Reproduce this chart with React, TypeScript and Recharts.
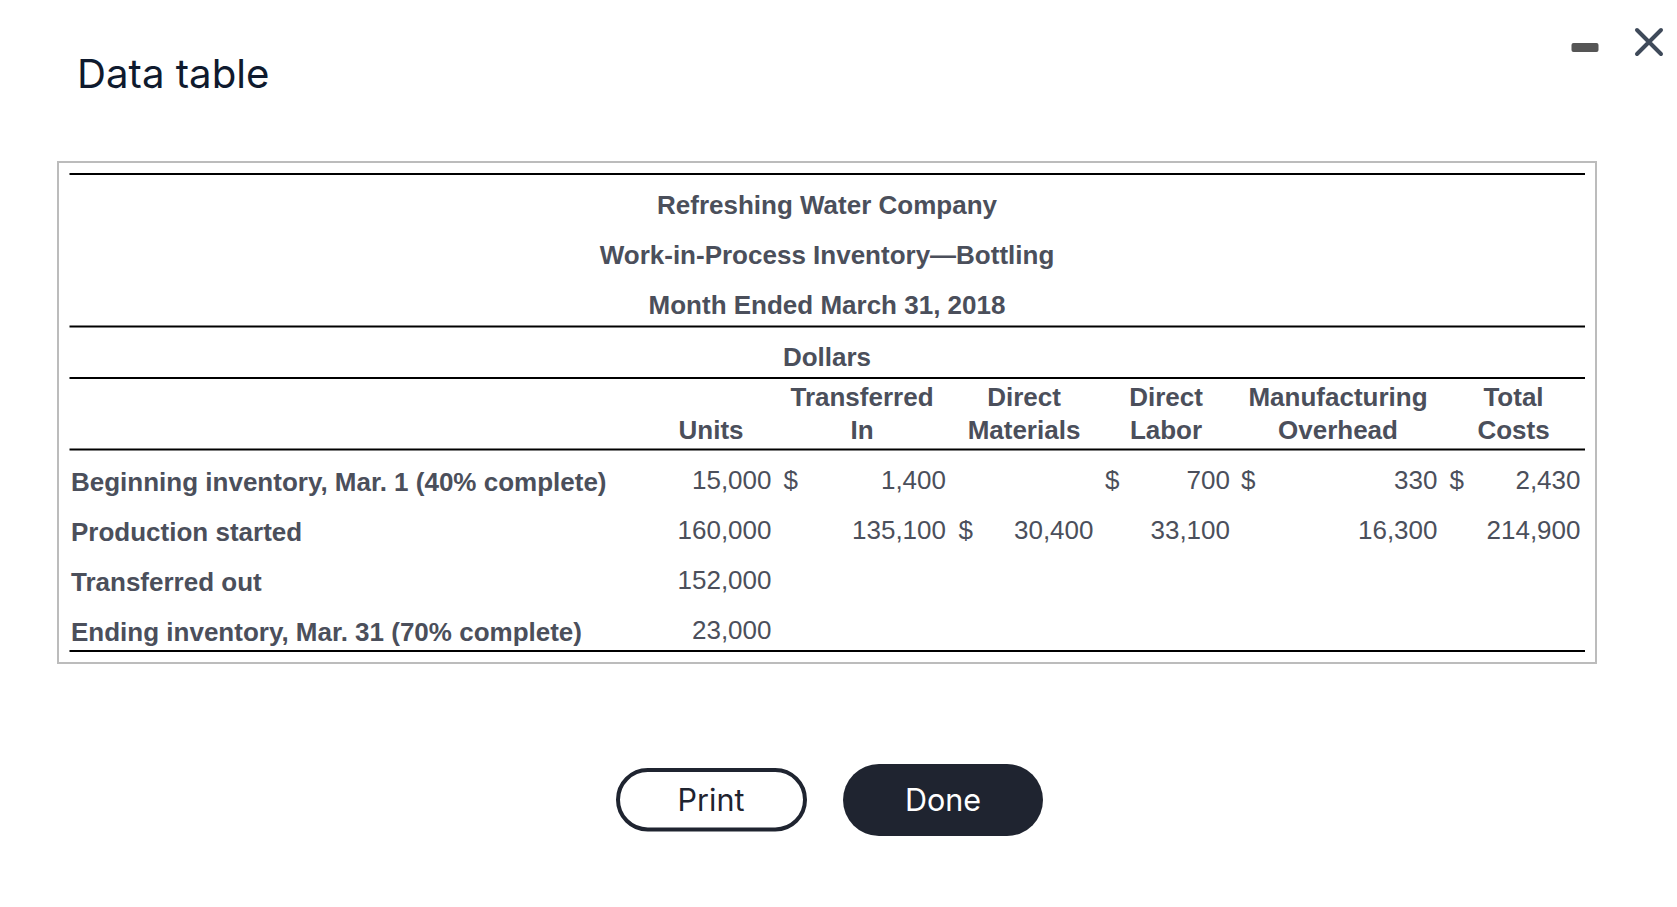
import { ScatterChart, Scatter, XAxis, YAxis, ReferenceLine, ReferenceArea } from "recharts";

const WIDTH = 1677;
const HEIGHT = 907;

const titleLines = ["Refreshing Water Company", "Work-in-Process Inventory—Bottling", "Month Ended March 31, 2018"];
const sectionLabel = "Dollars";
const rowLabels = [
  "Beginning inventory, Mar. 1 (40% complete)",
  "Production started",
  "Transferred out",
  "Ending inventory, Mar. 31 (70% complete)",
];
const headerTop = ["", "Transferred", "Direct", "Direct", "Manufacturing", "Total"];
const headerBottom = ["Units", "In", "Materials", "Labor", "Overhead", "Costs"];

const units = ["15,000", "160,000", "152,000", "23,000"];
const transferredIn = ["1,400", "135,100", "", ""];
const directMaterials = ["", "30,400", "", ""];
const directLabor = ["700", "33,100", "", ""];
const overhead = ["330", "16,300", "", ""];
const totalCosts = ["2,430", "214,900", "", ""];
const valueColumns = [units, transferredIn, directMaterials, directLabor, overhead, totalCosts];

// which row of which column carries a dollar sign
const dollarRowByColumn = [-1, 0, 1, 0, 0, 0];

// layout, in chart pixels
const rowY = [489, 539, 589, 639];
const rowLabelY = [491, 541, 591, 641];
const columnRight = [771.5, 946, 1093.5, 1230, 1437.5, 1580.5];
const columnCenter = [711, 862, 1024, 1166, 1338, 1513.5];
const dollarLeft = [0, 783.5, 958.5, 1105, 1241, 1449.5];
const ruleY = [174, 326.5, 378, 449.5, 651];
const titleY = [214, 264, 314];

const INK = "#4b4f5b";
const DARK = "#1f2430";
const TABLE_FONT = "'Liberation Sans', Arial, sans-serif";
const UI_FONT = "Inter, sans-serif";

type Cell = { x: number; y: number; text: string };

const titleCells: Cell[] = titleLines.map((text, i) => ({ x: 827, y: titleY[i], text }));
const sectionCells: Cell[] = [{ x: 827, y: 365.5, text: sectionLabel }];
const headerCells: Cell[] = [
  ...headerTop.map((text, i) => ({ x: columnCenter[i], y: 406, text })),
  ...headerBottom.map((text, i) => ({ x: columnCenter[i], y: 439, text })),
].filter((c) => c.text);
const rowLabelCells: Cell[] = rowLabels.map((text, i) => ({ x: 71, y: rowLabelY[i], text }));
const valueCells: Cell[] = valueColumns.flatMap((col, c) =>
  col.map((text, r) => ({ x: columnRight[c], y: rowY[r], text })).filter((d) => d.text),
);
const dollarCells: Cell[] = dollarRowByColumn.flatMap((r, c) =>
  r < 0 ? [] : [{ x: dollarLeft[c], y: rowY[r], text: "$" }],
);

function cellText(anchor: "start" | "middle" | "end", weight: number) {
  return (props: any) => (
    <text
      x={props.cx}
      y={props.cy}
      textAnchor={anchor}
      fontFamily={TABLE_FONT}
      fontSize={26}
      fontWeight={weight}
      fill={INK}
    >
      {props.payload.text}
    </text>
  );
}

export default function App() {
  return (
    <div style={{ position: "absolute", left: 0, top: 0, width: WIDTH, height: HEIGHT, background: "#fff" }}>
      <ScatterChart width={WIDTH} height={HEIGHT} margin={{ top: 0, right: 0, bottom: 0, left: 0 }}>
        <XAxis type="number" dataKey="x" domain={[0, WIDTH]} hide />
        <YAxis type="number" dataKey="y" domain={[0, HEIGHT]} reversed hide />

        <ReferenceArea x1={58} x2={1596} y1={162} y2={663} fill="none" stroke="#bcbcbc" strokeWidth={2} />
        {ruleY.map((y) => (
          <ReferenceLine key={y} segment={[{ x: 69.5, y }, { x: 1585, y }]} stroke="#000" strokeWidth={2} />
        ))}

        <Scatter data={titleCells} shape={cellText("middle", 700)} isAnimationActive={false} />
        <Scatter data={sectionCells} shape={cellText("middle", 700)} isAnimationActive={false} />
        <Scatter data={headerCells} shape={cellText("middle", 700)} isAnimationActive={false} />
        <Scatter data={rowLabelCells} shape={cellText("start", 700)} isAnimationActive={false} />
        <Scatter data={valueCells} shape={cellText("end", 400)} isAnimationActive={false} />
        <Scatter data={dollarCells} shape={cellText("start", 400)} isAnimationActive={false} />

        <text x={77} y={88} fontFamily={UI_FONT} fontSize={40.2} fill="#0f1a2e">
          Data table
        </text>

        {/* window controls */}
        <rect x={1571.5} y={43} width={27} height={9} rx={2} fill="#555" />
        <path d="M1637 30 L1661 54 M1661 30 L1637 54" stroke="#3f4a5a" strokeWidth={4} strokeLinecap="round" fill="none" />

        {/* buttons */}
        <rect x={618} y={770} width={187} height={59.5} rx={29.75} fill="#fff" stroke={DARK} strokeWidth={4} />
        <text x={711} y={811} textAnchor="middle" fontFamily={UI_FONT} fontSize={30.5} fill={DARK}>
          Print
        </text>
        <rect x={843} y={764} width={200} height={72} rx={36} fill={DARK} />
        <text x={943} y={811} textAnchor="middle" fontFamily={UI_FONT} fontSize={30.5} fill="#fff">
          Done
        </text>
      </ScatterChart>
    </div>
  );
}
